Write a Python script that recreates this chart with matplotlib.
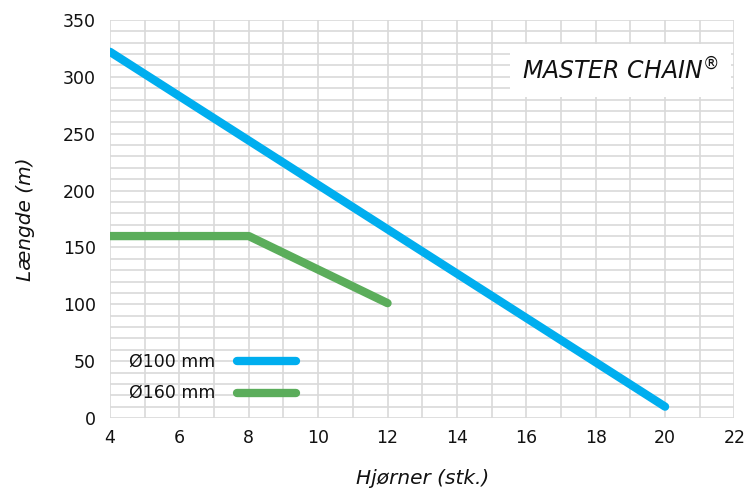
import matplotlib
matplotlib.use("Agg")
import matplotlib.pyplot as plt
from matplotlib.ticker import MultipleLocator

plt.rcParams['font.family'] = ['DejaVu Sans']

corners_100 = [4, 20]
length_100 = [322, 10]
corners_160 = [4, 8, 12]
length_160 = [160, 160, 101]
series_labels = ["Ø100 mm", "Ø160 mm"]
colors = ["#00AEEF", "#5BAD5B"]
x_ticks = [4, 6, 8, 10, 12, 14, 16, 18, 20, 22]
y_ticks = [0, 50, 100, 150, 200, 250, 300, 350]

fig = plt.figure(figsize=(7.46, 4.94), dpi=100)
ax = fig.add_axes([0.1475, 0.1538, 0.837, 0.8057])

ax.plot(corners_100, length_100, color=colors[0], lw=6, solid_capstyle='round', zorder=3)
ax.plot(corners_160, length_160, color=colors[1], lw=6, solid_capstyle='round',
        solid_joinstyle='round', zorder=3)

ax.set_xlim(4, 22)
ax.set_ylim(0, 350)
ax.set_xticks(x_ticks)
ax.set_yticks(y_ticks)
ax.xaxis.set_minor_locator(MultipleLocator(1))
ax.yaxis.set_minor_locator(MultipleLocator(10))
ax.grid(which='both', color='#d9d9d9', lw=1.2)
ax.set_axisbelow(True)
for s in ax.spines.values():
    s.set_visible(False)
ax.tick_params(which='both', length=0, labelsize=12.5, colors='#111111', pad=8)
ax.tick_params(axis='y', pad=10)

ax.set_xlabel("Hjørner (stk.)", fontsize=14.5, style='italic', labelpad=16, color='#111111')
ax.set_ylabel("Længde (m)", fontsize=14.5, style='italic', labelpad=20, color='#111111')

# legend drawn inside the plot
leg_y = [50, 22]
for lab, col, yv in zip(series_labels, colors, leg_y):
    ax.text(4.55, yv, lab, fontsize=12.5, va='center', ha='left', color='#111111', zorder=4)
    ax.plot([7.65, 9.35], [yv, yv], color=col, lw=6, solid_capstyle='round', zorder=4)

ax.text(0.975, 0.873, "MASTER CHAIN$^{®}$", transform=ax.transAxes, fontsize=17,
        style='italic', ha='right', va='center', color='#111111',
        bbox=dict(facecolor='white', edgecolor='none', pad=9), zorder=5)

fig.savefig("out.png", dpi=100)
